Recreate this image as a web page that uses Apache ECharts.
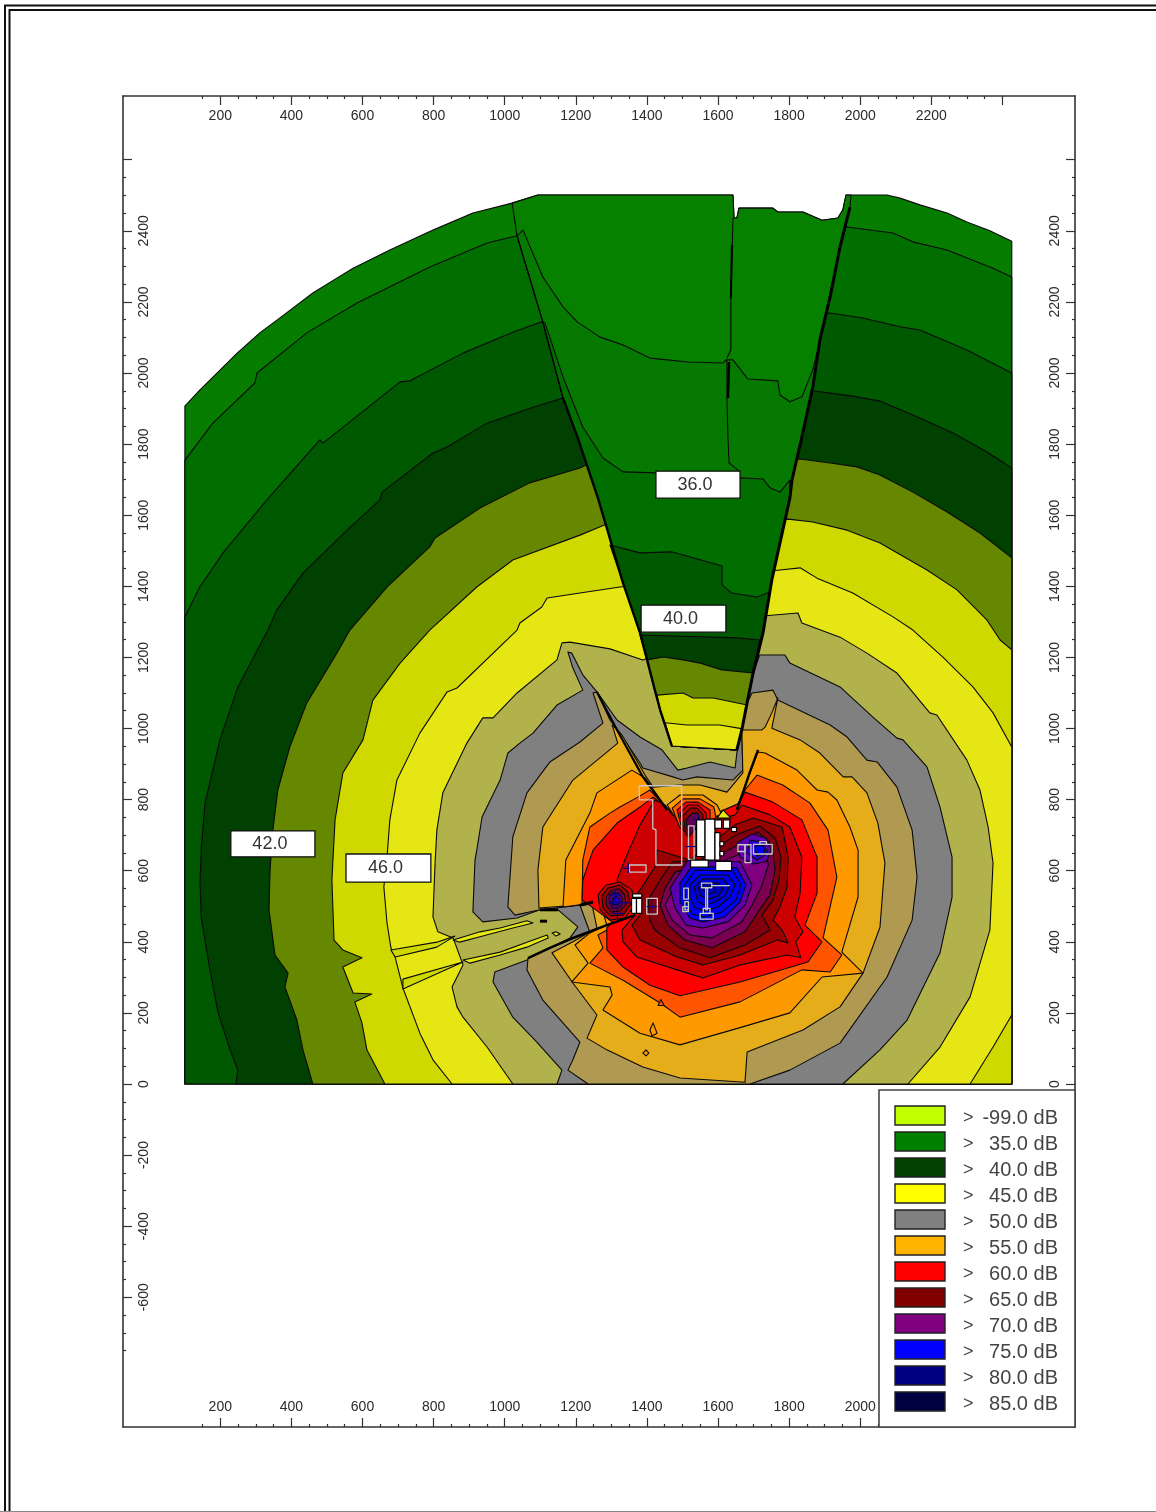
<!DOCTYPE html>
<html>
<head>
<meta charset="utf-8">
<title>Noise contour map</title>
<script src="https://cdn.jsdelivr.net/npm/echarts@6/dist/echarts.min.js"></script>
<style>
  html, body { margin: 0; padding: 0; background: #fff; }
  #chart { width: 1156px; height: 1512px; }
</style>
</head>
<body>
<div id="chart"></div>
<script>
// axis values
const xLabels = [200, 400, 600, 800, 1000, 1200, 1400, 1600, 1800, 2000, 2200];
const xMajor = xLabels.concat([2400]);
const yLabels = [-600, -400, -200, 0, 200, 400, 600, 800, 1000, 1200, 1400, 1600, 1800, 2000, 2200, 2400];
const yMajor = yLabels.concat([2600]);

// legend
const legendLabels = ['-99.0', '35.0', '40.0', '45.0', '50.0', '55.0', '60.0', '65.0', '70.0', '75.0', '80.0', '85.0'];
const legendColors = ['#bfff00', '#008000', '#004000', '#ffff00', '#808080', '#ffb400', '#ff0000', '#800000', '#800080', '#0000ff', '#000080', '#000040'];

// contour labels: text, box corners in axis units
const contourLabels = ['36.0', '40.0', '42.0', '46.0'];
const contourLabelBoxes = [[1433, 1724, 1671, 1648], [1391, 1347, 1631, 1271], [230, 712, 468, 639], [556, 647, 796, 568]];

// contour rings, outermost first (x, y in axis units)
const ringA = [[100,1907],[142,1952],[248,2056],[312,2113],[369,2155],[462,2225],[530,2267],[576,2295],[680,2346],[802,2402],[915,2450],[1026,2478],[1099,2501],[1651,2501],[1654,2436],[1662,2436],[1668,2464],[1764,2464],[1778,2453],[1849,2453],[1903,2430],[1948,2436],[1962,2459],[1971,2501],[2087,2501],[2124,2492],[2180,2473],[2257,2450],[2313,2425],[2378,2400],[2440,2371],[2440,0],[100,0]];
const ringB = [[100,1755],[179,1859],[298,1972],[304,2000],[445,2113],[587,2197],[793,2298],[955,2366],[1040,2386],[1974,2411],[2104,2394],[2160,2369],[2257,2346],[2387,2295],[2440,2270],[2440,0],[100,0]];
const ringC = [[100,1314],[142,1398],[208,1494],[332,1643],[482,1812],[491,1803],[709,1975],[737,1978],[887,2056],[1028,2115],[1110,2144],[1926,2169],[2019,2155],[2124,2130],[2180,2121],[2313,2065],[2440,2000],[2440,0],[100,0]];
const ringD = [[244,0],[250,39],[228,96],[194,200],[171,321],[146,470],[143,565],[146,658],[157,790],[199,968],[250,1117],[335,1277],[360,1333],[434,1437],[559,1558],[652,1643],[658,1665],[802,1775],[842,1792],[955,1859],[1085,1904],[1170,1930],[1877,1950],[1990,1935],[2067,1921],[2160,1882],[2274,1831],[2370,1778],[2440,1733],[2440,0]];
const ringE = [[462,0],[434,96],[417,180],[383,273],[392,312],[355,363],[338,490],[341,602],[349,714],[363,827],[397,948],[445,1072],[530,1212],[567,1277],[672,1398],[793,1511],[808,1536],[935,1620],[1076,1691],[1218,1733],[1246,1747],[1841,1758],[1926,1747],[2002,1736],[2067,1713],[2160,1665],[2257,1609],[2350,1550],[2440,1480],[2440,0]];
const ringF = [[666,0],[615,96],[601,172],[581,231],[629,253],[576,256],[547,329],[601,355],[547,377],[522,405],[516,574],[525,743],[547,875],[604,968],[632,1080],[709,1184],[793,1277],[926,1398],[1028,1474],[1218,1544],[1289,1573],[1807,1589],[1877,1581],[1974,1558],[2067,1522],[2200,1446],[2285,1390],[2370,1305],[2407,1249],[2440,1221],[2440,0]];
const ringG = [[856,0],[802,68],[765,143],[717,270],[695,357],[683,383],[672,453],[663,554],[672,638],[680,743],[700,855],[765,987],[842,1103],[870,1114],[1040,1277],[1048,1297],[1110,1342],[1125,1367],[1218,1381],[1331,1398],[1784,1446],[1841,1452],[1889,1423],[1990,1381],[2104,1314],[2160,1277],[2245,1201],[2330,1117],[2387,1044],[2440,948],[2440,194],[2387,104],[2322,0]];
const ringH = [[1028,0],[955,104],[887,188],[870,217],[856,273],[887,335],[859,411],[816,428],[802,470],[808,622],[813,714],[830,819],[898,959],[943,1030],[972,1030],[1040,1100],[1153,1193],[1167,1241],[1190,1243],[1303,1224],[1396,1193],[1742,1317],[1835,1325],[1846,1297],[1954,1257],[2030,1212],[2115,1156],[2208,1044],[2228,1038],[2313,911],[2350,827],[2373,723],[2387,622],[2378,433],[2322,245],[2237,104],[2146,0]];
const ringI = [[1153,0],[1167,39],[1096,118],[1028,188],[972,287],[977,315],[1068,349],[1190,411],[1212,442],[1156,490],[1105,490],[1040,467],[943,456],[915,484],[921,630],[926,658],[941,751],[992,855],[1014,931],[1048,959],[1085,987],[1153,1066],[1226,1108],[1198,1170],[1184,1215],[1195,1212],[1226,1151],[1266,1103],[1323,1024],[1388,976],[1450,940],[1495,883],[1521,889],[1586,906],[1657,889],[1662,931],[1676,996],[1691,1072],[1708,1156],[1727,1207],[1798,1207],[1812,1184],[1954,1117],[2047,1032],[2115,973],[2132,968],[2200,892],[2237,779],[2271,638],[2271,526],[2237,369],[2144,180],[2067,96],[1962,0]];
const ringJ = [[1241,0],[1184,39],[1198,68],[1218,118],[1113,236],[1068,321],[1071,354],[1133,383],[1246,427],[1218,503],[1105,490],[1034,475],[1014,498],[1028,695],[1068,819],[1133,906],[1218,962],[1283,1015],[1255,1100],[1266,1103],[1303,1024],[1331,987],[1388,903],[1396,889],[1481,864],[1509,855],[1549,864],[1651,855],[1679,883],[1676,996],[1691,1072],[1705,1100],[1764,1108],[1778,1080],[1926,1010],[1974,976],[2030,911],[2059,906],[2115,835],[2158,714],[2172,582],[2158,461],[2087,301],[1954,115],[1812,39],[1699,0]];
const ringK = [[1685,5],[1501,17],[1396,48],[1294,96],[1238,129],[1266,194],[1198,284],[1139,369],[1198,400],[1266,439],[1252,506],[1102,495],[1099,602],[1113,723],[1198,855],[1325,959],[1309,1010],[1337,982],[1402,869],[1425,835],[1501,841],[1558,841],[1634,821],[1679,875],[1676,996],[1733,996],[1742,1004],[1761,1044],[1778,1086],[1770,1046],[1761,1001],[1841,968],[1897,931],[1963,864],[1988,864],[2030,819],[2061,734],[2081,622],[2067,441],[2019,312],[1954,217],[1849,152],[1691,90]];
const ringL = [[1204,391],[1241,340],[1195,287],[1303,273],[1309,250],[1283,208],[1388,143],[1501,110],[1676,160],[1812,200],[1903,301],[2019,312],[1959,371],[2005,526],[2005,658],[1982,723],[1945,799],[1920,821],[1889,827],[1832,883],[1742,931],[1722,934],[1713,911],[1662,776],[1558,748],[1473,762],[1402,861],[1365,883],[1266,819],[1246,762],[1178,630],[1170,498],[1275,512],[1294,447],[1246,425]];
const ringM = [[1269,419],[1283,383],[1246,340],[1340,292],[1445,228],[1501,188],[1671,231],[1846,321],[1926,315],[1959,363],[1906,411],[1945,582],[1920,714],[1869,790],[1792,841],[1719,869],[1685,827],[1662,782],[1558,742],[1473,765],[1416,827],[1382,807],[1331,779],[1303,762],[1246,723],[1226,630],[1224,509],[1303,518],[1320,447]];
const ringN = [[1294,439],[1294,377],[1340,329],[1416,278],[1501,248],[1671,287],[1863,343],[1903,400],[1855,447],[1889,537],[1889,638],[1846,743],[1764,793],[1685,821],[1665,788],[1558,742],[1479,765],[1425,807],[1388,779],[1323,734],[1255,658],[1226,574],[1224,518],[1309,456]];
const ringO = [[1337,433],[1340,400],[1379,357],[1493,321],[1566,298],[1671,335],[1804,363],[1843,355],[1829,400],[1849,428],[1826,470],[1841,537],[1846,638],[1812,723],[1756,757],[1676,785],[1657,757],[1558,729],[1479,757],[1459,785],[1430,799],[1388,729],[1345,630],[1323,574],[1331,546],[1373,475]];
const ringP = [[1388,405],[1493,357],[1566,335],[1671,363],[1776,405],[1807,397],[1790,433],[1764,461],[1784,498],[1804,554],[1807,638],[1790,723],[1708,748],[1657,729],[1529,630],[1436,658],[1430,610],[1379,532],[1388,475],[1365,447]];
const ringQ = [[1430,433],[1501,383],[1586,355],[1685,391],[1756,433],[1733,475],[1764,517],[1781,574],[1787,638],[1770,692],[1727,726],[1657,700],[1558,630],[1479,624],[1445,574],[1411,518],[1416,461]];
const ringR = [[1467,447],[1515,405],[1592,383],[1685,428],[1722,484],[1756,532],[1770,602],[1761,672],[1722,709],[1665,672],[1558,616],[1487,596],[1459,551],[1445,503]];
const ringS = [[1479,461],[1529,419],[1592,411],[1676,456],[1705,503],[1733,559],[1751,616],[1742,672],[1714,697],[1665,644],[1558,602],[1501,574],[1473,532],[1459,503]];
const ringT = [[1473,551],[1524,630],[1671,625],[1705,560],[1685,503],[1637,456],[1566,439],[1518,447],[1487,495]];

// main peak
const peak1 = [[1501,565],[1535,613],[1662,608],[1688,560],[1671,512],[1628,470],[1566,456],[1529,467],[1501,512]];
const peak2 = [[1515,560],[1544,602],[1651,599],[1674,560],[1660,518],[1620,484],[1569,470],[1535,478],[1515,518]];
const peak3 = [[1529,560],[1558,588],[1637,588],[1657,560],[1642,526],[1609,498],[1572,487],[1544,495],[1529,523]];
const peak4 = [[1541,554],[1566,577],[1623,577],[1640,554],[1628,529],[1600,512],[1572,503],[1552,512]];
const peak5 = [[1552,551],[1575,565],[1609,565],[1623,548],[1609,529],[1580,520],[1561,529]];
const peak6 = [[1563,548],[1580,557],[1600,554],[1603,540],[1580,534]];

// right lobe
const lobe1 = [[1662,678],[1705,703],[1745,692],[1759,658],[1745,625],[1708,619],[1671,638]];
const lobe2 = [[1699,686],[1736,681],[1750,650],[1719,630],[1691,650]];
const lobe3 = [[1713,670],[1736,670],[1742,650],[1719,641]];

// blob under the wedge tip
const blob1 = [[1465,785],[1501,813],[1566,813],[1606,785],[1620,757],[1501,729]];
const blob2 = [[1479,776],[1510,802],[1558,802],[1597,779],[1603,748],[1501,720]];
const blob3 = [[1493,771],[1518,793],[1552,793],[1586,771],[1586,743],[1507,715]];
const blob4 = [[1501,762],[1524,785],[1552,785],[1575,762],[1575,737],[1513,709]];
const blob5 = [[1510,754],[1529,776],[1549,776],[1566,757],[1566,729],[1518,700]];
const blob6 = [[1518,743],[1535,762],[1552,762],[1558,737],[1524,692]];
const yellowSpot = [[1606,748],[1623,771],[1645,748]];

// small source on the left
const spot1 = [[1269,532],[1292,560],[1331,568],[1365,546],[1374,504],[1345,467],[1303,461],[1275,490]];
const spot2 = [[1280,529],[1297,551],[1331,560],[1354,540],[1360,504],[1340,475],[1303,473],[1283,495]];
const spot3 = [[1292,526],[1306,543],[1328,549],[1345,532],[1348,504],[1331,487],[1306,484],[1292,504]];
const spot4 = [[1300,523],[1311,537],[1328,537],[1337,523],[1337,504],[1326,495],[1309,495]];
const spot5 = [[1309,520],[1320,529],[1331,518],[1326,504],[1311,504]];

// shielded wedge at the top
const wedgeTop = [[1026,2478],[1099,2501],[1651,2501],[1654,2436],[1662,2436],[1668,2464],[1764,2464],[1778,2453],[1849,2453],[1903,2430],[1948,2436],[1962,2459],[1971,2501],[1985,2501]];
const wedgeRight = [[1982,2467],[1954,2355],[1926,2214],[1897,2093],[1877,1961],[1846,1820],[1818,1699],[1812,1648],[1761,1418],[1736,1269],[1708,1156],[1691,1072],[1676,996],[1662,940]];
const wedgeLeft = [[1040,2386],[1113,2144],[1170,1930],[1212,1817],[1269,1648],[1340,1409],[1388,1269],[1408,1193],[1430,1108],[1445,1052],[1478,951]];
const wedgeCurve1 = [[1057,2402],[1113,2270],[1170,2186],[1210,2144],[1275,2101],[1340,2079],[1416,2042],[1524,2031],[1623,2028],[1631,2037],[1651,2037],[1693,1983],[1778,1978],[1784,1938],[1812,1919],[1846,1933],[1877,2009],[1911,2149],[1934,2262]];
const wedgeCurve2 = [[1119,2141],[1170,1989],[1226,1848],[1283,1761],[1340,1722],[1436,1719],[1671,1705],[1736,1702],[1756,1677],[1784,1665],[1812,1699]];
const wedgeCurve3 = [[1303,1516],[1388,1494],[1478,1497],[1620,1457],[1620,1404],[1648,1381],[1719,1370],[1756,1384]];
const wedgeCurve4 = [[1388,1263],[1662,1255],[1727,1249]];
const wedgeCurve5 = [[1408,1193],[1453,1201],[1510,1193],[1558,1184],[1620,1165],[1708,1156]];
const wedgeCurve6 = [[1436,1094],[1510,1100],[1538,1086],[1595,1086],[1691,1066]];
const wedgeCurve7 = [[1459,1016],[1521,1010],[1614,1010],[1679,999]];

// shadow strip on the west side
const westSliver1 = [[683,377],[813,399],[864,416],[813,385],[695,357]];
const westSliver2 = [[717,295],[887,343],[717,267]];
const westStrip1 = [[859,405],[935,428],[992,439],[1068,459],[1085,453],[1028,439],[935,414],[878,399]];
const westStrip2 = [[887,349],[992,371],[1068,399],[1125,419],[1128,411],[1068,385],[992,363],[907,340]];
const westDot = [[1139,425],[1150,428],[1162,422],[1150,416]];
const islet1 = [[1447,238],[1456,221],[1439,221]];
const islet2 = [[1425,172],[1436,143],[1422,135],[1416,152]];
const islet3 = [[1405,96],[1413,87],[1405,79],[1396,87]];

// heavy contour lines
const rayUpper1 = [[1105,490],[1156,490]];
const rayUpper2 = [[1218,503],[1255,512]];
const rayLower = [[1071,354],[1133,383],[1198,411],[1294,447],[1374,475]];
const rayDash = [[1105,458],[1125,458]];
const tipRight = [[1722,940],[1699,878],[1679,819],[1662,771]];
const tipLeft = [[1266,1103],[1323,996],[1396,864],[1464,771]];
const splitUpper = [[1651,2436],[1648,2318],[1645,2205],[1645,2065],[1634,2042]];
const splitLower = [[1634,2037],[1634,1924],[1637,1812],[1640,1747],[1671,1722]];
const splitThick = [[1640,2031],[1637,1930]];
const splitThick2 = [[1648,2360],[1645,2210]];

// buildings (x1, y1, x2, y2)
const whiteBlocks = [[1548,743,1572,640],[1572,745,1600,630],[1600,707,1614,630],[1614,682,1625,670],[1614,654,1625,642],[1531,630,1581,610],[1602,626,1647,600],[1600,743,1619,719],[1624,743,1642,719],[1647,722,1661,710],[1364,522,1378,480],[1378,522,1393,480],[1367,535,1393,525]];
const outlineBlocks = [[1358,616,1405,596],[1407,522,1437,478],[1512,551,1525,520],[1515,513,1525,490],[1509,499,1525,485],[1562,565,1591,552],[1574,552,1579,490],[1558,480,1595,464],[1567,494,1586,480],[1665,673,1685,654],[1685,673,1702,623],[1709,674,1762,647],[1727,682,1746,674],[1525,726,1541,632]];
const outlineYard = [[1386,839],[1506,839],[1506,616],[1433,616],[1433,715],[1424,719],[1424,799],[1386,799]];
const navyLines = [[[1355,621],[1355,593]],[[1339,607],[1358,607]],[[1317,550],[1317,515]],[[1300,532],[1335,532]],[[1324,495],[1324,465]],[[1308,480],[1340,480]],[[1298,510],[1374,510]],[[1421,518],[1421,480]],[[1407,499],[1437,499]],[[1553,757],[1553,724]],[[1541,743],[1567,743]],[[1515,668],[1548,668]]];
const grayLine = [[1591,558],[1642,558]];

// x readings were taken against a slightly short ruler, this brings them onto the axis
function readX(v) {
  return v * 0.994 + 1;
}

function wedgeBand(curve, r, l) {
  return curve.concat(wedgeRight.slice(r), wedgeLeft.slice(l).reverse());
}
function box(b) {
  return [[b[0], b[1]], [b[2], b[1]], [b[2], b[3]], [b[0], b[3]]];
}
function area(pts, fill) {
  return { kind: 'polygon', pts: pts, fill: fill, stroke: '#0a0a0a', width: 1.1 };
}
function line(pts, stroke, width) {
  return { kind: 'polyline', pts: pts, stroke: stroke, width: width };
}

const layers = [
  area(ringA, '#077d00'), area(ringB, '#006f00'), area(ringC, '#005900'), area(ringD, '#004000'),
  area(ringE, '#668800'), area(ringF, '#cfd900'), area(ringG, '#e6e615'), area(ringH, '#b2b24d'),
  area(wedgeTop.concat(wedgeRight, wedgeLeft.slice().reverse()), '#078000'),
  area(wedgeBand(wedgeCurve1, 3, 0), '#067a00'),
  area(wedgeBand(wedgeCurve2, 7, 1), '#006f00'),
  area(wedgeBand(wedgeCurve3, 9, 5), '#005900'),
  area(wedgeBand(wedgeCurve4, 10, 7), '#004000'),
  area(wedgeBand(wedgeCurve5, 11, 8), '#668800'),
  area(wedgeBand(wedgeCurve6, 12, 9), '#cfd900'),
  area(wedgeBand(wedgeCurve7, 13, 10), '#e6e615'),
  area(ringI, '#808080'), area(ringJ, '#b09950'), area(ringK, '#e6ad1a'), area(ringL, '#ff9900'),
  area(ringM, '#ff5500'), area(ringN, '#ff0000'), area(ringO, '#cc0000'), area(ringP, '#990000'),
  area(ringQ, '#800010'), area(ringR, '#7a0050'), area(ringS, '#800080'), area(ringT, '#5a00b0'),
  area(peak1, '#0000ff'), area(peak2, '#0000f5'), area(peak3, '#0000e8'), area(peak4, '#0000d8'), area(peak5, '#0000c8'), area(peak6, '#0000b8'),
  area(lobe1, '#5a00b0'), area(lobe2, '#3000e0'), area(lobe3, '#0000ff'),
  area(blob1, '#ff9900'), area(blob2, '#ff5500'), area(blob3, '#ff0000'), area(blob4, '#cc0000'), area(blob5, '#990000'), area(blob6, '#600050'),
  area(yellowSpot, '#e6e615'),
  area(spot1, '#cc0000'), area(spot2, '#990000'), area(spot3, '#700040'), area(spot4, '#500090'), area(spot5, '#2000c0'),
  area(westSliver1, '#cfd900'), area(westSliver2, '#cfd900'), area(westStrip1, '#e6e615'), area(westStrip2, '#e6e615'), area(westDot, '#e6e615'),
  area(islet1, '#ff5500'), area(islet2, '#ff9900'), area(islet3, '#ff9900'),
  line(wedgeRight, '#000', 3), line(wedgeLeft.slice(2), '#000', 2.4), line(wedgeLeft.slice(0, 3), '#000', 1.2),
  line(tipRight, '#000', 2.4), line(tipLeft, '#000', 2.2),
  line(rayUpper1, '#000', 3), line(rayUpper2, '#000', 3), line(rayLower, '#000', 2.4), line(rayDash, '#000', 3),
  line(splitUpper, '#0a0a0a', 1.1), line(splitLower, '#0a0a0a', 1.1), line(splitThick, '#000', 2.4), line(splitThick2, '#000', 2)
];
outlineBlocks.forEach(function (b) {
  layers.push({ kind: 'polygon', pts: box(b), fill: 'none', stroke: '#c8c8c8', width: 1.3 });
});
layers.push({ kind: 'polygon', pts: outlineYard, fill: 'none', stroke: '#c8c8c8', width: 1.3 });
navyLines.forEach(function (n) { layers.push(line(n, '#000090', 1.2)); });
layers.push(line(grayLine, '#c8c8c8', 1.3));
whiteBlocks.forEach(function (b) {
  layers.push({ kind: 'polygon', pts: box(b), fill: '#ffffff', stroke: '#000', width: 1.2 });
});

function minorTicks(from, to) {
  const out = [];
  for (let v = from; v <= to; v += 50) {
    if (v % 200 !== 0) out.push(v);
  }
  return out;
}
function plainNumber(v) {
  return String(v);
}

const textColor = '#2a2a2a';
const axisFont = { fontFamily: 'Liberation Sans', fontSize: 14, color: textColor };
const frameLine = { show: true, onZero: false, lineStyle: { color: '#333', width: 1.6 } };
const xMin = -73.7, xMax = 2604.2, yMin = -964.9, yMax = 2779.3;

function majorX(position) {
  return {
    type: 'value', position: position, min: xMin, max: xMax, splitLine: { show: false },
    axisLine: frameLine,
    axisTick: { inside: true, length: 9, customValues: xMajor, lineStyle: { color: '#333', width: 1.2 } },
    axisLabel: Object.assign({ inside: true, margin: 13, customValues: xLabels, formatter: plainNumber }, axisFont)
  };
}
function minorX(position) {
  return {
    type: 'value', position: position, min: xMin, max: xMax, splitLine: { show: false },
    axisLine: { show: false, onZero: false },
    axisTick: { inside: true, length: 3, customValues: minorTicks(150, 2350), lineStyle: { color: '#333', width: 1.2 } },
    axisLabel: { show: false }
  };
}
function majorY(position, margin) {
  return {
    type: 'value', position: position, min: yMin, max: yMax, splitLine: { show: false },
    axisLine: frameLine,
    axisTick: { inside: true, length: 9, customValues: yMajor, lineStyle: { color: '#333', width: 1.2 } },
    axisLabel: Object.assign({ inside: true, margin: margin, rotate: 90, customValues: yLabels, formatter: plainNumber }, axisFont)
  };
}
function minorY(position) {
  return {
    type: 'value', position: position, min: yMin, max: yMax, splitLine: { show: false },
    axisLine: { show: false, onZero: false },
    axisTick: { inside: true, length: 3, customValues: minorTicks(-750, 2550), lineStyle: { color: '#333', width: 1.2 } },
    axisLabel: { show: false }
  };
}

// legend and the page frame are page furniture, not data
const graphics = [
  { type: 'rect', z: 100, shape: { x: 5, y: 5.5, width: 1300, height: 1600 }, style: { fill: 'none', stroke: '#111', lineWidth: 2 } },
  { type: 'rect', z: 100, shape: { x: 9.5, y: 10, width: 1300, height: 1600 }, style: { fill: 'none', stroke: '#111', lineWidth: 2 } },
  { type: 'line', z: 100, shape: { x1: 0, y1: 1511.5, x2: 1156, y2: 1511.5 }, style: { stroke: '#888', lineWidth: 1 } },
  { type: 'rect', z: 100, shape: { x: 879, y: 1090, width: 196, height: 337 }, style: { fill: '#fff', stroke: '#444', lineWidth: 1.6 } }
];
legendLabels.forEach(function (label, i) {
  const y = 1106 + i * 26;
  graphics.push({ type: 'rect', z: 101, shape: { x: 895, y: y, width: 50, height: 19 }, style: { fill: legendColors[i], stroke: '#222', lineWidth: 1.4 } });
  graphics.push({ type: 'text', z: 101, style: { x: 963, y: y + 12, text: '>', fill: '#444', font: '18px "Liberation Sans"', textAlign: 'left', textVerticalAlign: 'middle' } });
  graphics.push({ type: 'text', z: 101, style: { x: 1058, y: y + 12, text: label + ' dB', fill: '#444', font: '20px "Liberation Sans"', textAlign: 'right', textVerticalAlign: 'middle' } });
});

const chart = echarts.init(document.getElementById('chart'), null, { renderer: 'canvas' });
chart.setOption({
  animation: false,
  backgroundColor: '#fff',
  grid: { left: 123, top: 96, width: 952, height: 1331, containLabel: false },
  xAxis: [majorX('bottom'), majorX('top'), minorX('bottom'), minorX('top')],
  yAxis: [majorY('left', 14.5), majorY('right', 12.5), minorY('left'), minorY('right')],
  graphic: graphics,
  series: [
    {
      type: 'custom',
      silent: true,
      clip: false,
      xAxisIndex: 0,
      yAxisIndex: 0,
      z: 2,
      data: layers.map(function (l) { return l.pts[0]; }),
      renderItem: function (params, api) {
        const l = layers[params.dataIndex];
        const points = l.pts.map(function (p) { return api.coord([readX(p[0]), p[1]]); });
        const style = { stroke: l.stroke, lineWidth: l.width, lineJoin: 'round' };
        style.fill = l.kind === 'polygon' && l.fill !== 'none' ? l.fill : null;
        return { type: l.kind, shape: { points: points }, style: style };
      }
    },
    {
      type: 'custom',
      silent: true,
      clip: false,
      xAxisIndex: 0,
      yAxisIndex: 0,
      z: 3,
      data: contourLabelBoxes.map(function (b) { return [b[0], b[1]]; }),
      renderItem: function (params, api) {
        const b = contourLabelBoxes[params.dataIndex];
        const p1 = api.coord([readX(b[0]), b[1]]);
        const p2 = api.coord([readX(b[2]), b[3]]);
        return {
          type: 'group',
          children: [
            { type: 'rect', shape: { x: p1[0], y: p1[1], width: p2[0] - p1[0], height: p2[1] - p1[1] }, style: { fill: '#fff', stroke: '#111', lineWidth: 1.3 } },
            { type: 'text', style: { x: (p1[0] + p2[0]) / 2 - 3, y: (p1[1] + p2[1]) / 2, text: contourLabels[params.dataIndex], fill: '#333', font: '18px "Liberation Sans"', textAlign: 'center', textVerticalAlign: 'middle' } }
          ]
        };
      }
    }
  ]
});
</script>
</body>
</html>
